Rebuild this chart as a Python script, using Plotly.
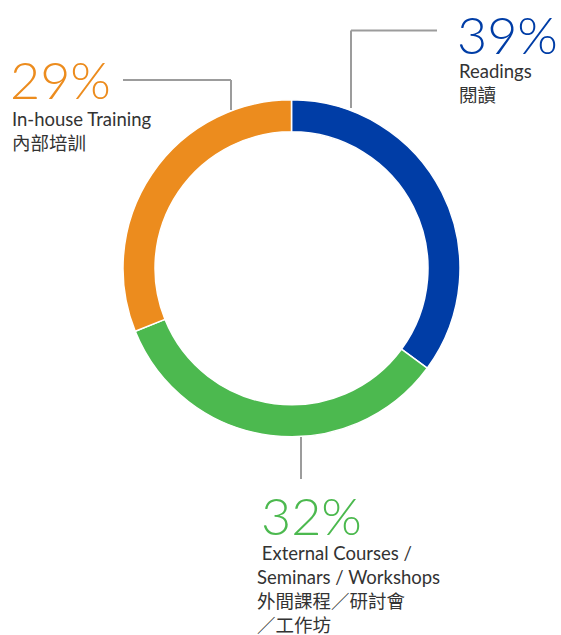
import plotly.graph_objects as go

# Data
categories = ["Readings", "External Courses / Seminars / Workshops", "In-house Training"]
slice_values = [35.1, 33.8, 31.1]          # share of the ring as drawn
pct_labels = ["39%", "32%", "29%"]          # percentages printed on the chart
en_labels = ["Readings", "&nbsp;External Courses /<br>Seminars / Workshops", "In-house Training"]
zh_labels = ["閱讀", "外間課程／研討會<br>／工作坊", "內部培訓"]
colors = ["#003DA6", "#4CB94F", "#EC8C1E"]

W, H = 561, 635
cx, cy, R = 291.5, 268.3, 168.5

def px(x):
    return x / W

def py(y):
    return 1 - y / H

fig = go.Figure(go.Pie(
    labels=categories,
    values=slice_values,
    hole=0.81,
    sort=False,
    direction="clockwise",
    rotation=0,
    marker=dict(colors=colors, line=dict(color="white", width=1.5)),
    textinfo="none",
    hoverinfo="label+percent",
    showlegend=False,
    domain=dict(x=[px(cx - R), px(cx + R)], y=[py(cy + R), py(cy - R)]),
))

grey = "#9C9C9C"
shapes = [
    # Readings leader
    dict(type="line", xref="paper", yref="paper", x0=px(351), y0=py(108), x1=px(351), y1=py(30.5)),
    dict(type="line", xref="paper", yref="paper", x0=px(351), y0=py(30.5), x1=px(437), y1=py(30.5)),
    # In-house leader
    dict(type="line", xref="paper", yref="paper", x0=px(231), y0=py(110), x1=px(231), y1=py(80)),
    dict(type="line", xref="paper", yref="paper", x0=px(231), y0=py(80), x1=px(123), y1=py(80)),
    # External leader
    dict(type="line", xref="paper", yref="paper", x0=px(301), y0=py(437), x1=px(301), y1=py(479)),
]
for s in shapes:
    s["line"] = dict(color=grey, width=2)

pct_font = dict(family="Lato", size=52, weight=300)
lab_font = dict(family="Lato, 'Noto Sans CJK TC'", size=18.5, color="#333333")

annotations = []
# positions: (pct x, pct center y, label x, label block center y)
pos = [
    (455, 34, 457, 83),
    (259, 515, 255, 588.5),
    (8, 79.5, 10, 130.5),
]
for i in range(3):
    x0, y0, x1, y1 = pos[i]
    annotations.append(dict(text=pct_labels[i], x=px(x0), y=py(y0), xref="paper", yref="paper",
                            xanchor="left", yanchor="middle", showarrow=False,
                            font=dict(pct_font, color=colors[i])))
    annotations.append(dict(text=en_labels[i] + "<br>" + zh_labels[i], x=px(x1), y=py(y1),
                            xref="paper", yref="paper",
                            xanchor="left", yanchor="middle", align="left", showarrow=False,
                            font=lab_font))

fig.update_layout(
    width=W, height=H,
    margin=dict(l=0, r=0, t=0, b=0),
    paper_bgcolor="white", plot_bgcolor="white",
    shapes=shapes, annotations=annotations,
)

fig.write_html("out.html", config={"displayModeBar": False},
               post_script="document.body.style.margin='0';document.body.style.overflow='hidden';")
